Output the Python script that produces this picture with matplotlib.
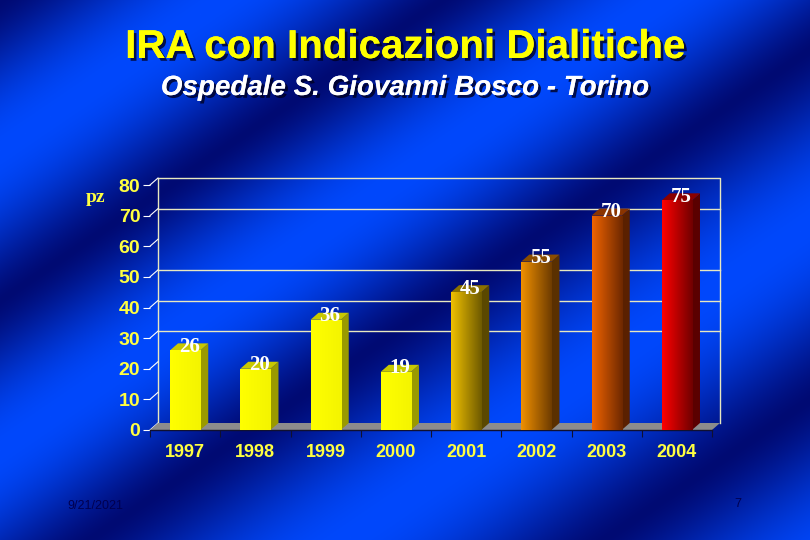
import numpy as np
import matplotlib
matplotlib.use("Agg")
import matplotlib.pyplot as plt
import matplotlib.patheffects as pe
from matplotlib.patches import Polygon

years = ["1997", "1998", "1999", "2000", "2001", "2002", "2003", "2004"]
values = [26, 20, 36, 19, 45, 55, 70, 75]
light_colors = ["#ffff00", "#ffff00", "#ffff00", "#ffff00", "#f0c000", "#f09000", "#f06400", "#ff0000"]
dark_colors = ["#f4f400", "#f4f400", "#f4f400", "#f4f400", "#6e5a00", "#6e3c00", "#6e2800", "#700000"]
top_colors = ["#c8c800", "#c8c800", "#c8c800", "#c8c800", "#8a7000", "#8a4c00", "#8a3400", "#8a0000"]
side_colors = ["#9a9a00", "#9a9a00", "#9a9a00", "#9a9a00", "#5a4800", "#5a3000", "#5a2000", "#5a0000"]
yticks = [0, 10, 20, 30, 40, 50, 60, 70, 80]
gridvals = [30, 40, 50, 70]

W, H = 810, 540
fig = plt.figure(figsize=(8.1, 5.4), dpi=100)

# background with diagonal streaks
bg = fig.add_axes([0, 0, 1, 1])
yy, xx = np.mgrid[0:H, 0:W]
s = yy + 0.68 * xx
phase = np.interp(s, [0, 300, 600, 950, 1300], [0, 1, 2, 3, 4])
b = (0.5 - 0.5 * np.cos(2 * np.pi * phase)) ** 0.7
dark = np.array([0, 10, 115]) / 255.0
bright = np.array([0, 72, 252]) / 255.0
img = dark[None, None, :] + b[..., None] * (bright - dark)[None, None, :]
bg.imshow(img, extent=[0, W, H, 0], aspect="auto", interpolation="bilinear")
bg.set_xlim(0, W)
bg.set_ylim(H, 0)
bg.axis("off")

# main axes (front plane)
x0, x1 = 150, 712
yb, yt = 430, 185
ax = fig.add_axes([x0 / W, 1 - yb / H, (x1 - x0) / W, (yb - yt) / H])
ax.set_facecolor("none")
for sp in ["left", "right", "top"]:
    ax.spines[sp].set_visible(False)
ax.spines["bottom"].set_color("#101030")
ax.spines["bottom"].set_linewidth(1.0)

DX = 8 / ((x1 - x0) / 8.0)
DY = 7 / ((yb - yt) / 80.0)

# floor
ax.add_patch(Polygon([(-0.5, 0), (7.5, 0), (7.5 + DX, DY), (-0.5 + DX, DY)],
                     closed=True, facecolor="#8c8c8c", edgecolor="none", zorder=1, clip_on=False))
# back wall frame and gridlines
wallc = "#e8e8c0"
ax.plot([-0.5 + DX, -0.5 + DX, 7.5 + DX, 7.5 + DX], [DY, 80 + DY, 80 + DY, DY],
        color=wallc, lw=1.0, clip_on=False, zorder=0.5)
for g in gridvals:
    ax.plot([-0.5 + DX, 7.5 + DX], [g + DY, g + DY], color=wallc, lw=1.0, clip_on=False, zorder=0.5)
# left perspective tick lines
for t in yticks:
    ax.plot([-0.5, -0.5 + DX], [t, t + DY], color="white", lw=0.8, clip_on=False, zorder=0.6)

# bars
bw = 0.43
for i, (v, lc, dc, tc, sc) in enumerate(zip(values, light_colors, dark_colors, top_colors, side_colors)):
    xl = i - bw / 2
    xr = i + bw / 2
    bar = ax.bar(i, v, width=bw, color=lc, edgecolor="none", zorder=3)[0]
    grad = np.linspace(0, 1, 64)
    c1 = np.array(matplotlib.colors.to_rgb(lc))
    c2 = np.array(matplotlib.colors.to_rgb(dc))
    gimg = c1[None, None, :] * (1 - grad[None, :, None]) + c2[None, None, :] * grad[None, :, None]
    im = ax.imshow(gimg, extent=[xl, xr, 0, v], aspect="auto", zorder=3.1, interpolation="bilinear")
    im.set_clip_path(bar)
    ax.add_patch(Polygon([(xr, 0), (xr + DX, DY), (xr + DX, v + DY), (xr, v)], closed=True,
                         facecolor=sc, edgecolor="none", zorder=3, clip_on=False))
    ax.add_patch(Polygon([(xl, v), (xr, v), (xr + DX, v + DY), (xl + DX, v + DY)], closed=True,
                         facecolor=tc, edgecolor="none", zorder=3, clip_on=False))
    ax.text(i + 0.06, v + 1.2, str(v), ha="center", va="center", color="white",
            fontsize=15, fontweight="bold", family=["Liberation Serif", "DejaVu Serif"],
            zorder=5, clip_on=False)

ax.set_xlim(-0.5, 7.5)
ax.set_ylim(0, 80)
ax.set_yticks(yticks)
ax.set_yticklabels([str(t) for t in yticks])
ax.tick_params(axis="y", length=5, width=0.8, color="white", pad=2, labelcolor="#ffff40",
               labelsize=14)
for lab in ax.get_yticklabels():
    lab.set_fontweight("bold")
    lab.set_family(["Liberation Sans", "DejaVu Sans"])
ax.set_xticks(range(len(years)))
ax.set_xticklabels(years)
ax.set_xticks(np.arange(-0.5, 8.0, 1.0), minor=True)
ax.tick_params(axis="x", which="major", length=0, pad=10, labelcolor="#ffff40", labelsize=13)
ax.tick_params(axis="x", which="minor", length=5, color="#101030", width=0.8)
for lab in ax.get_xticklabels():
    lab.set_fontweight("bold")
    lab.set_family(["Liberation Sans", "DejaVu Sans"])

fig.text(95 / W, 1 - 197 / H, "pz", color="#ffff40", fontsize=14, fontweight="bold",
         family=["Liberation Serif", "DejaVu Serif"], ha="center", va="center")

shadow = [pe.withSimplePatchShadow(offset=(2, -2), shadow_rgbFace="#000020", alpha=0.8), pe.Normal()]
fig.text(405 / W, 1 - 47 / H, "IRA con Indicazioni Dialitiche", color="#ffff00", fontsize=29,
         fontweight="bold", family=["Liberation Sans", "DejaVu Sans"],
         ha="center", va="center", path_effects=shadow)
fig.text(405 / W, 1 - 88 / H, "Ospedale S. Giovanni Bosco - Torino", color="white", fontsize=20,
         fontweight="bold", style="italic", family=["Liberation Sans", "DejaVu Sans"],
         ha="center", va="center", path_effects=shadow)

fig.text(95 / W, 1 - 506 / H, "9/21/2021", color="#000050", fontsize=9,
         family=["Liberation Sans Narrow", "Liberation Sans"], ha="center", va="center")
fig.text(738 / W, 1 - 504 / H, "7", color="#000050", fontsize=9,
         family=["Liberation Sans Narrow", "Liberation Sans"], ha="center", va="center")

fig.savefig("out.png", dpi=100)
